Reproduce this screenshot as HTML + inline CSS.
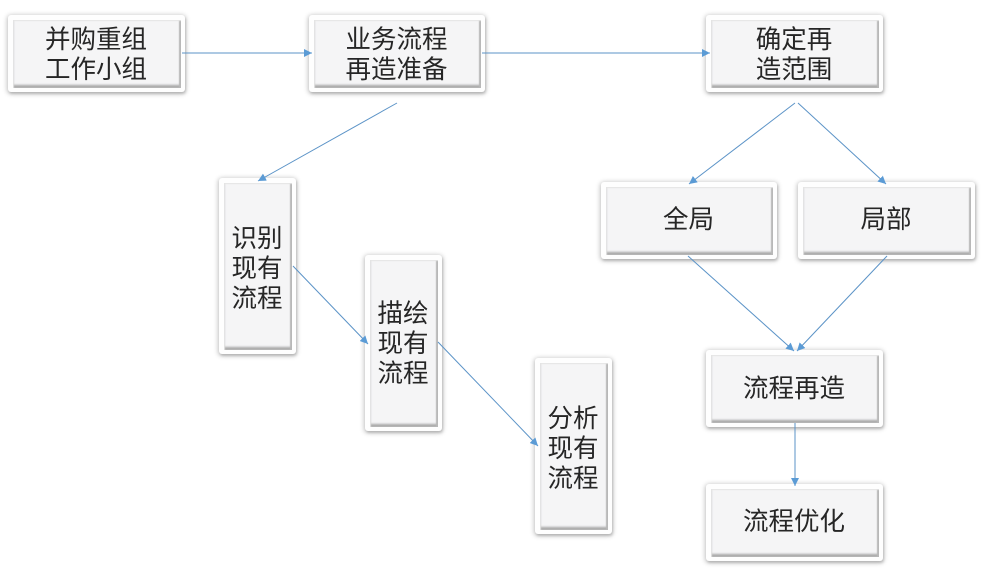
<!DOCTYPE html>
<html lang="zh">
<head>
<meta charset="utf-8">
<style>
html,body{margin:0;padding:0;background:#fff}
#c{position:relative;width:989px;height:575px;overflow:hidden;background:#fff;font-family:"Liberation Sans","WenQuanYi Zen Hei","Noto Sans CJK SC",sans-serif}
.b{position:absolute;box-sizing:border-box;background:#fefefe;border-radius:3px;box-shadow:0 1px 5px 1px rgba(0,0,0,.24),1px 2px 2px rgba(0,0,0,.12)}
.b>div{position:absolute;left:5px;top:5px;right:4px;bottom:4px;box-sizing:border-box;background:#f5f5f6;box-shadow:inset 1px 1px 1px #e4e4e4,inset -2px -1px 1px #b8b8b8,inset 0 -3px 2px #a6a6a6;display:flex;align-items:center;justify-content:center;text-align:center;font-size:25.5px;line-height:30px;color:#262626}
.b>div>span{display:block;transform:translate(-1px,1px)}
.b>div>span.t{transform:translate(-1px,2px)}
.b>div>span.u{transform:translate(-1px,0)}
.b>div>span.v{transform:translate(-1px,-1px)}
svg{position:absolute;left:0;top:0}
</style>
</head>
<body>
<div id="c">
<div class="b" style="left:8px;top:15px;width:177px;height:77px"><div><span>并购重组<br>工作小组</span></div></div>
<div class="b" style="left:309px;top:15px;width:176px;height:77px"><div><span>业务流程<br>再造准备</span></div></div>
<div class="b" style="left:706px;top:15px;width:177px;height:77px"><div><span>确定再<br>造范围</span></div></div>
<div class="b" style="left:219px;top:178px;width:77px;height:176px"><div><span class="t">识别<br>现有<br>流程</span></div></div>
<div class="b" style="left:365px;top:255px;width:77px;height:176px"><div><span class="u">描绘<br>现有<br>流程</span></div></div>
<div class="b" style="left:535px;top:358px;width:77px;height:176px"><div><span class="t">分析<br>现有<br>流程</span></div></div>
<div class="b" style="left:601px;top:182px;width:176px;height:77px"><div><span class="v">全局</span></div></div>
<div class="b" style="left:798px;top:182px;width:177px;height:77px"><div><span class="v">局部</span></div></div>
<div class="b" style="left:706px;top:350px;width:177px;height:77px"><div><span class="u">流程再造</span></div></div>
<div class="b" style="left:706px;top:484px;width:177px;height:77px"><div><span class="v">流程优化</span></div></div>
<svg width="989" height="575" viewBox="0 0 989 575">
<defs>
<marker id="a" markerUnits="userSpaceOnUse" markerWidth="9" markerHeight="8" refX="8" refY="4" orient="auto"><path d="M0 0L8 4L0 8Z" fill="#5b9bd5"/></marker>
</defs>
<g stroke="#5b93c7" stroke-width="1" fill="none">
<line x1="182" y1="53" x2="312" y2="53" marker-end="url(#a)"/>
<line x1="482" y1="53" x2="710" y2="53" marker-end="url(#a)"/>
<line x1="397" y1="103" x2="258" y2="181" marker-end="url(#a)"/>
<line x1="293" y1="266" x2="368" y2="344" marker-end="url(#a)"/>
<line x1="438" y1="342" x2="538" y2="446" marker-end="url(#a)"/>
<line x1="795" y1="103" x2="689" y2="184" marker-end="url(#a)"/>
<line x1="798" y1="103" x2="886" y2="184" marker-end="url(#a)"/>
<line x1="688" y1="256" x2="794" y2="351" marker-end="url(#a)"/>
<line x1="887" y1="256" x2="797" y2="351" marker-end="url(#a)"/>
<line x1="795" y1="423" x2="795" y2="486" marker-end="url(#a)"/>
</g>
</svg>
</div>
</body>
</html>
